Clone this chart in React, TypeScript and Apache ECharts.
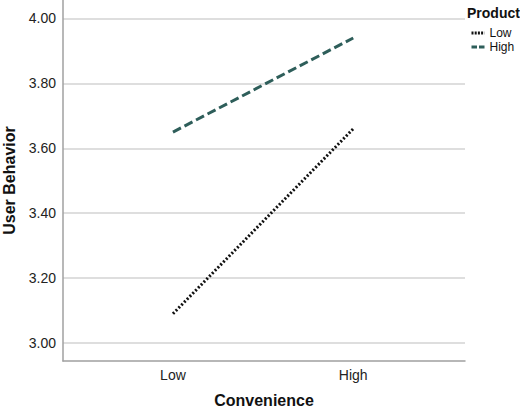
import React, { useEffect, useRef } from 'react';
import * as echarts from 'echarts';

// Convenience levels on the x axis
const convenience = ['Low', 'High'];
// Product groups and their means of User Behavior
const products = ['Low', 'High'];
const productLowValues = [3.09, 3.66];
const productHighValues = [3.65, 3.94];
// y axis tick labels
const yTicks = [3.0, 3.2, 3.4, 3.6, 3.8, 4.0];

const FONT = '"Liberation Sans", Arial, Helvetica, sans-serif';

const App: React.FC = () => {
  const chartRef = useRef<HTMLDivElement>(null);

  useEffect(() => {
    if (!chartRef.current) return;
    const chart = echarts.init(chartRef.current, null, { renderer: 'svg' });

    const toPoints = (values: number[]) => values.map((v, i) => [i + 1, v]);

    chart.setOption({
      animation: false,
      textStyle: { fontFamily: FONT },
      title: {
        text: 'Product',
        left: 467,
        top: 6,
        padding: 0,
        textStyle: { fontFamily: FONT, fontSize: 14, fontWeight: 'bold', color: '#111' }
      },
      legend: {
        orient: 'vertical',
        left: 470,
        top: 27,
        padding: 0,
        itemGap: 2,
        itemWidth: 13,
        itemHeight: 8,
        data: [
          { name: products[0], lineStyle: { width: 3, type: [2, 1.2] } },
          { name: products[1], lineStyle: { width: 3, type: [5.5, 2] } }
        ],
        itemStyle: { color: 'transparent', borderColor: 'transparent', borderWidth: 0 },
        textStyle: { fontFamily: FONT, fontSize: 12, color: '#111' }
      },
      grid: { left: 63, right: 55, top: 0, bottom: 52, outerBoundsMode: 'none', containLabel: false },
      xAxis: {
        type: 'value',
        min: 0.39,
        max: 2.62,
        name: 'Convenience',
        nameLocation: 'middle',
        nameGap: 31,
        nameTextStyle: { fontFamily: FONT, fontSize: 16, fontWeight: 'bold', color: '#111' },
        axisLine: { show: true, lineStyle: { color: '#a0a0a0', width: 1.5 } },
        axisTick: { show: false, customValues: [1, 2] },
        splitLine: { show: false },
        axisLabel: {
          customValues: [1, 2],
          formatter: (v: number) => convenience[Math.round(v) - 1] ?? '',
          margin: 7,
          fontFamily: FONT,
          fontSize: 14,
          color: '#222'
        }
      },
      yAxis: {
        type: 'value',
        min: 2.9445,
        max: 4.057,
        name: 'User Behavior',
        nameLocation: 'middle',
        nameGap: 46,
        nameTextStyle: { fontFamily: FONT, fontSize: 16, fontWeight: 'bold', color: '#111' },
        axisLine: { show: true, lineStyle: { color: '#a0a0a0', width: 1.5 } },
        axisTick: { show: false, customValues: yTicks },
        splitLine: { show: true, customValues: yTicks, lineStyle: { color: '#d3d3d3', width: 1.5 } },
        axisLabel: {
          customValues: yTicks,
          formatter: (v: number) => v.toFixed(2),
          margin: 7,
          fontFamily: FONT,
          fontSize: 14,
          color: '#222'
        }
      },
      series: [
        {
          name: products[0],
          type: 'line',
          symbol: 'none',
          data: toPoints(productLowValues),
          lineStyle: { color: '#111', width: 3, type: [2, 2] },
          itemStyle: { color: '#111' }
        },
        {
          name: products[1],
          type: 'line',
          symbol: 'none',
          data: toPoints(productHighValues),
          lineStyle: { color: '#2e5e5a', width: 3, type: [9, 4] },
          itemStyle: { color: '#2e5e5a' }
        }
      ]
    });

    return () => {
      chart.dispose();
    };
  }, []);

  return (
    <div
      ref={chartRef}
      style={{ position: 'fixed', left: 0, top: 0, width: 520, height: 413, background: '#fff' }}
    />
  );
};

export default App;
